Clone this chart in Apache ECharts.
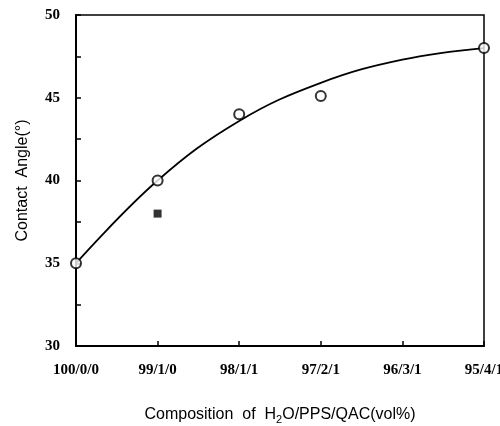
<!DOCTYPE html>
<html>
<head>
<meta charset="utf-8">
<script src="https://cdn.jsdelivr.net/npm/echarts@6/dist/echarts.min.js"></script>
<style>html,body{margin:0;padding:0;background:#fff;}#c{width:500px;height:426px;}</style>
</head>
<body>
<div id="c"></div>
<script>
var categories = ['100/0/0', '99/1/0', '98/1/1', '97/2/1', '96/3/1', '95/4/1'];
var openCircles = [35, 40, 44, 45.1, null, 48];
var filledSquares = [null, 38, null, null, null, null];
var fitCurve = [35.0, 40.0, 43.6, 45.9, 47.3, 48.0];
var yTicks = [30, 35, 40, 45, 50];

var chart = echarts.init(document.getElementById('c'), null, {renderer: 'canvas'});
chart.setOption({
  animation: false,
  backgroundColor: '#fff',
  grid: {left: 76, right: 16, top: 15, bottom: 80, containLabel: false, outerBoundsMode: 'none',
         show: true, borderColor: '#000', borderWidth: 1.5, backgroundColor: 'transparent'},
  xAxis: {
    type: 'category',
    data: categories,
    boundaryGap: false,
    axisLine: {lineStyle: {color: '#000', width: 2}},
    axisTick: {inside: true, length: 5, lineStyle: {color: '#000', width: 1.5}},
    axisLabel: {color: '#000', fontFamily: 'Liberation Serif', fontSize: 15, fontWeight: 'bold', margin: 17},
    splitLine: {show: false},
    name: 'Composition  of  H{sub|2}O/PPS/QAC(vol%)',
    nameLocation: 'middle',
    nameGap: 59,
    nameTextStyle: {color: '#000', fontFamily: 'Liberation Sans', fontSize: 16, lineHeight: 20,
      rich: {sub: {fontFamily: 'Liberation Sans', fontSize: 11, verticalAlign: 'bottom', lineHeight: 12, color: '#000'}}}
  },
  yAxis: {
    type: 'value',
    min: yTicks[0], max: yTicks[yTicks.length - 1], interval: 5,
    axisLine: {show: true, lineStyle: {color: '#000', width: 2}},
    axisTick: {show: true, inside: true, length: 5, lineStyle: {color: '#000', width: 1.5}},
    minorTick: {show: true, splitNumber: 2, length: 5, lineStyle: {color: '#000', width: 1.5}},
    axisLabel: {color: '#000', fontFamily: 'Liberation Serif', fontSize: 15, fontWeight: 'bold', margin: 16},
    splitLine: {show: false},
    name: 'Contact  Angle(°)',
    nameLocation: 'middle',
    nameRotate: 90,
    nameGap: 45,
    nameTextStyle: {color: '#000', fontFamily: 'Liberation Sans', fontSize: 16}
  },
  series: [
    {type: 'line', data: fitCurve, smooth: 0.4, showSymbol: false, symbol: 'none',
     lineStyle: {color: '#000', width: 1.8}, z: 2},
    {type: 'scatter', data: openCircles, symbol: 'circle', symbolSize: 10,
     itemStyle: {color: '#fff', borderColor: '#000', borderWidth: 2}, z: 3},
    {type: 'scatter', data: filledSquares, symbol: 'rect', symbolSize: 8,
     itemStyle: {color: '#000'}, z: 3}
  ]
});
</script>
</body>
</html>
